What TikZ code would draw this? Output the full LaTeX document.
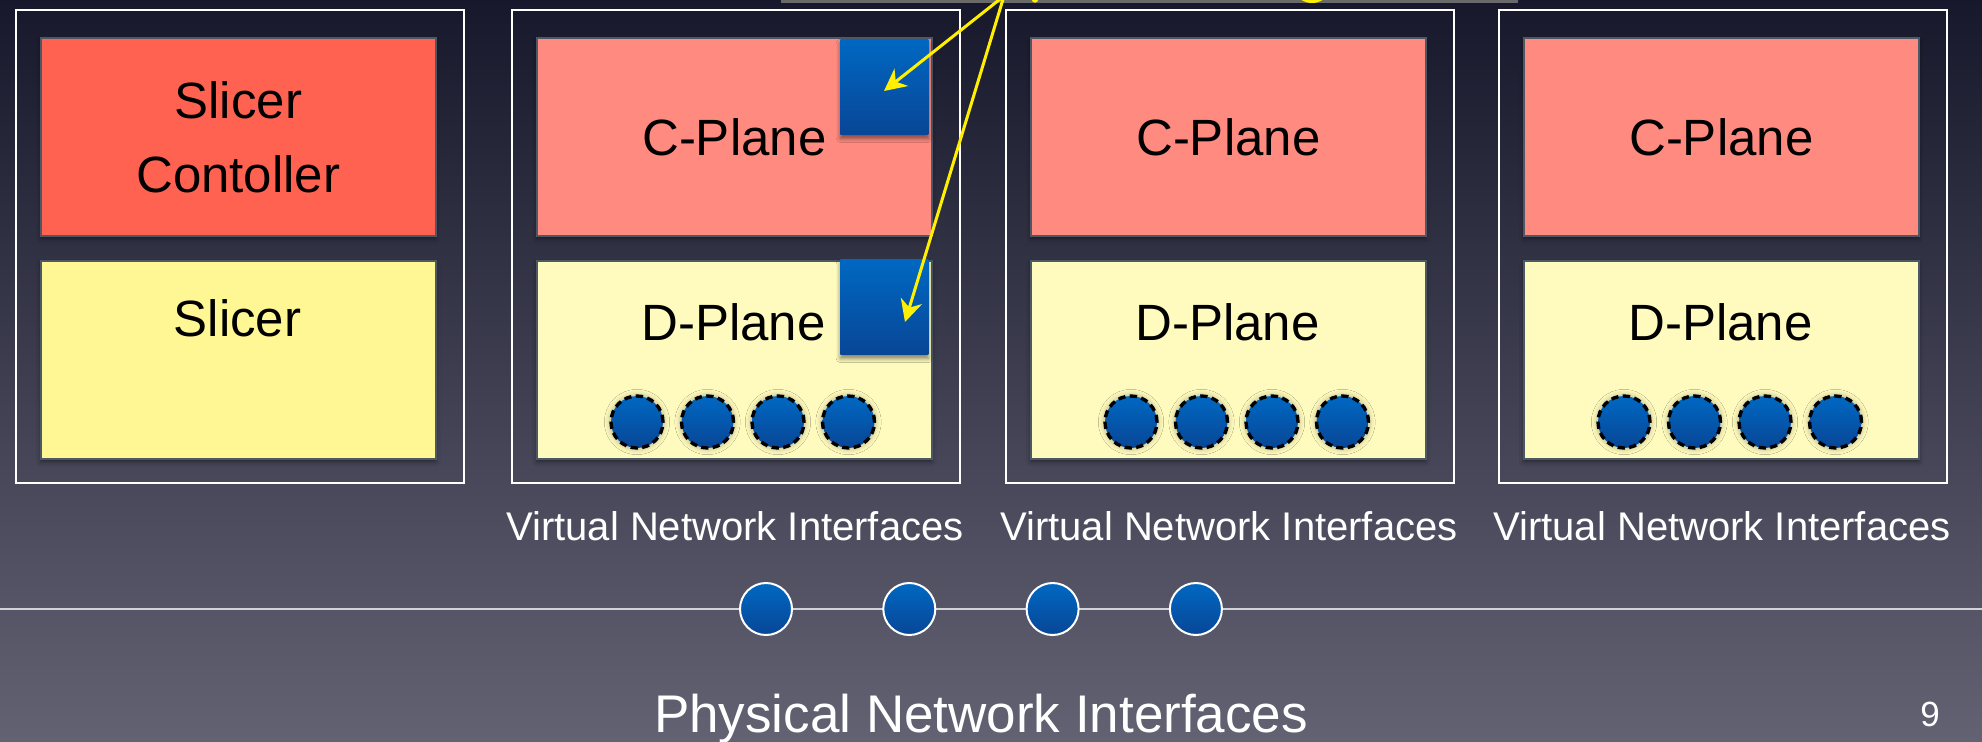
\documentclass[tikz,border=0pt]{standalone}
\usepackage{fontspec}
\setmainfont{Liberation Sans}
\usetikzlibrary{arrows.meta,shadows.blur}

\definecolor{bgTop}{RGB}{24,24,44}
\definecolor{bgBot}{RGB}{98,98,115}
\definecolor{ctrlRed}{RGB}{255,98,80}
\definecolor{slicerYel}{RGB}{255,247,147}
\definecolor{cPink}{RGB}{255,139,128}
\definecolor{dCream}{RGB}{255,251,190}
\definecolor{edgeGrey}{RGB}{76,88,100}
\definecolor{blueTop}{RGB}{0,104,194}
\definecolor{blueBot}{RGB}{8,70,150}
\definecolor{arrowYel}{RGB}{255,240,0}
\definecolor{barGrey}{RGB}{106,106,106}
\definecolor{wireGrey}{RGB}{210,210,218}

\begin{document}
\begin{tikzpicture}[x=0.5pt,y=-0.5pt,
  outerframe/.style={draw=white, line width=1pt, minimum width=224pt,
    minimum height=236.5pt, anchor=north west, inner sep=0pt},
  panel/.style={draw=edgeGrey, line width=0.8pt, minimum width=197.5pt,
    minimum height=99pt, anchor=north west, inner sep=0pt,
    blur shadow={shadow xshift=0pt, shadow yshift=-1.5pt, shadow opacity=45,
      shadow blur steps=6}},
  tagtext/.style={font=\fontsize{25.5}{37}\selectfont, text=black, align=center},
  chip/.style={top color=blueTop, bottom color=blueBot, minimum width=44pt,
    minimum height=47.5pt, anchor=north west, inner sep=0pt,
    blur shadow={shadow xshift=0pt, shadow yshift=-2pt, shadow opacity=50,
      shadow blur steps=6}},
  vport/.style={circle, minimum size=26pt, inner sep=0pt, top color=blueTop,
    bottom color=blueBot, draw=black, line width=1.7pt,
    dash pattern=on 3.6pt off 2.2pt,
    blur shadow={shadow xshift=0pt, shadow yshift=0pt,
      shadow opacity=22, shadow scale=1.08, shadow blur steps=6}},
  pport/.style={circle, minimum size=26pt, inner sep=0pt, top color=blueTop,
    bottom color=blueBot, draw=white, line width=1pt},
  callout/.style={draw=arrowYel, line width=1.5pt,
    -{Stealth[length=11pt,width=11pt,inset=3.5pt]}},
  caption/.style={text=white, font=\fontsize{20}{24}\selectfont, anchor=base},
]
\useasboundingbox (0,0) rectangle (1982,741);
\clip (0,0) rectangle (1982,741);

% backdrop
\shade[top color=bgTop, bottom color=bgBot] (0,0) rectangle (1982,741);

% bottom edge of the callout panel above
\fill[barGrey] (781,-30) rectangle (1518,3);
\fill[arrowYel] (1035,-0.5) circle (1.6pt);
\fill[arrowYel] (1312,-6) ellipse [x radius=7pt, y radius=4.5pt];

% slicer host
\node[outerframe] (frame1) at (15,9) {};
\node[panel, fill=ctrlRed, tagtext] (ctrl) at (40,37) {Slicer\\Contoller};
\node[panel, fill=slicerYel] (slicer) at (40,260) {};
\node[tagtext] (slicerlbl) at (237.5,318) {Slicer};

% sliced hosts
\foreach \i/\x in {2/511,3/1005,4/1498} {
  \node[outerframe] (frame\i) at (\x,9) {};
  \node[panel, fill=cPink, tagtext] (cplane\i) at (\x+25,37) {C-Plane};
  \node[panel, fill=dCream] (dplane\i) at (\x+25,260) {};
  \node[tagtext] (dlbl\i) at (\x+222.5,322) {D-Plane};
  \foreach \k in {0,...,3}
    \node[vport] (vif\i\k) at (\x+126+70.5*\k,422) {};
  \node[caption] (vcap\i) at (\x+224,540) {Virtual Network Interfaces};
}

% hooks inside the first sliced host
\node[chip] (chipC) at (840,39) {};
\node[chip] (chipD) at (840,259) {};

% callout arrows
\coordinate (src) at (1004,-4);
\coordinate (tipC) at (884,91);
\coordinate (tipD) at (905,322);
\draw[callout] (src) -- (tipC);
\draw[callout] (src) -- (tipD);

% physical wire with its ports
\coordinate (wireL) at (0,609);
\coordinate (wireR) at (1982,609);
\draw[wireGrey, line width=1.2pt] (wireL) -- (wireR);
\foreach \k in {0,...,3}
  \node[pport] (pif\k) at (766+143.3*\k,609) {};

\node[text=white, font=\fontsize{26.5}{30}\selectfont, anchor=base] (phys)
  at (981,732) {Physical Network Interfaces};
\node[text=white, font=\fontsize{17.5}{20}\selectfont] (pagenum) at (1930,714) {9};
\end{tikzpicture}
\end{document}
